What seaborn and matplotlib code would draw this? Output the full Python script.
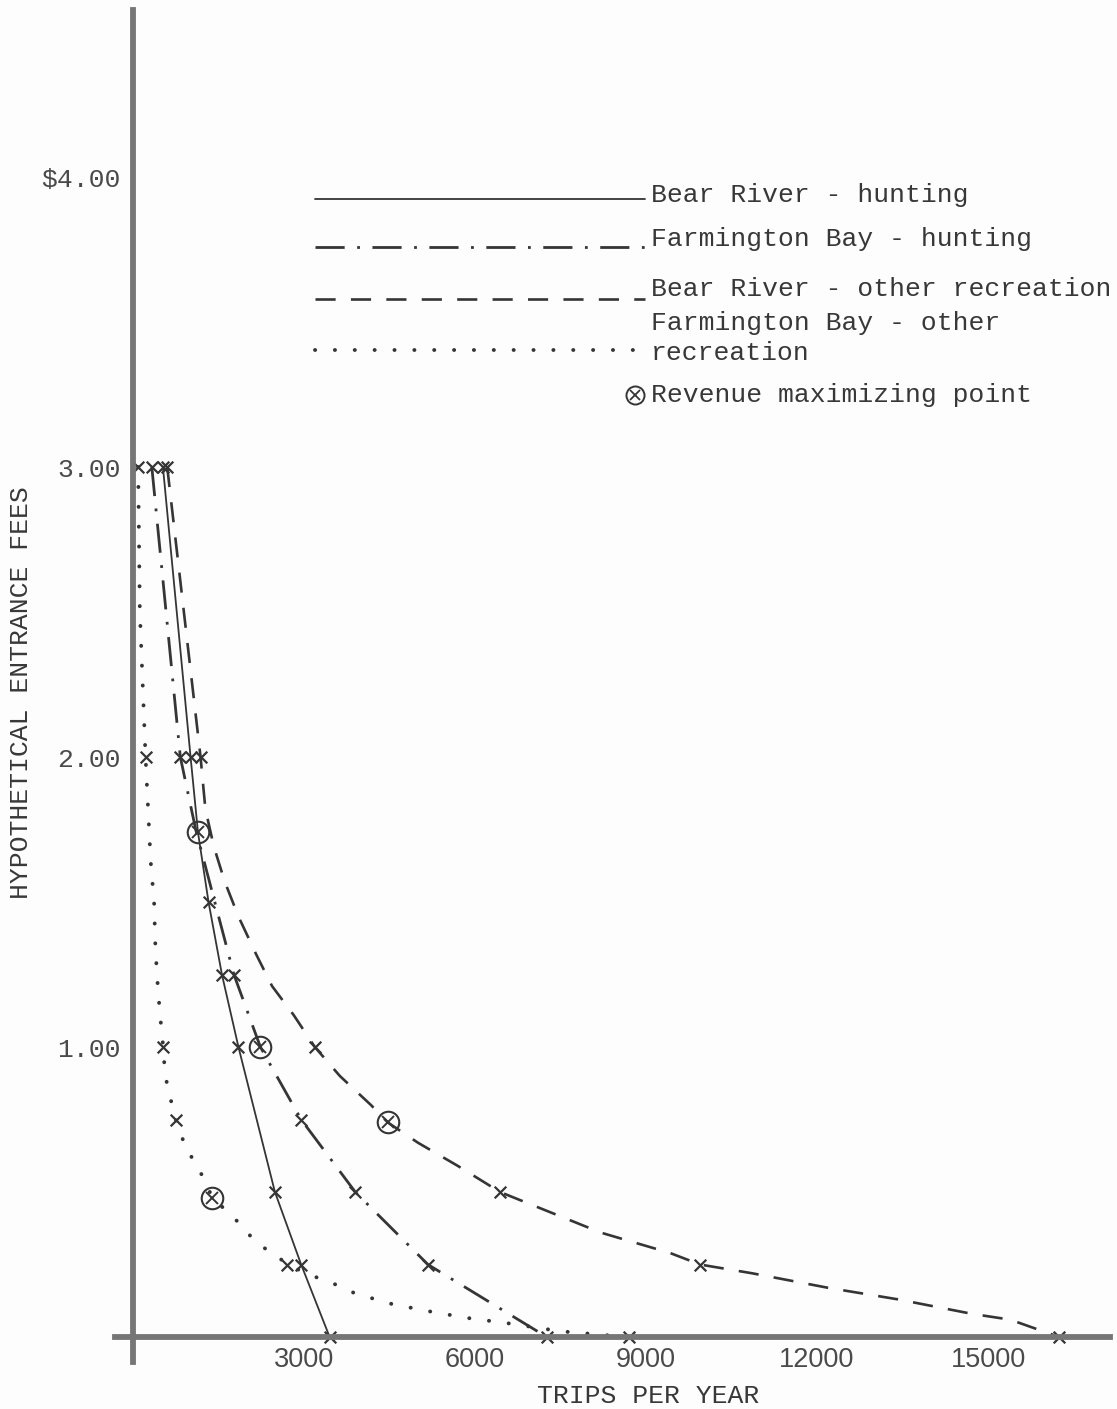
import matplotlib
matplotlib.use("Agg")
import matplotlib.pyplot as plt
from matplotlib.lines import Line2D
import seaborn as sns

# --- demand schedules: entrance fee ($) vs. trips per year ---
br_hunt_fee = [3.00, 2.00, 1.74, 1.50, 1.25, 1.00, 0.50, 0.25, 0.00]
br_hunt_trips = [525, 1010, 1140, 1325, 1560, 1850, 2490, 2950, 3450]
br_hunt_marks = [3.00, 2.00, 1.50, 1.25, 1.00, 0.50, 0.25, 0.00]
br_hunt_rmax = (1140, 1.74)

fb_hunt_fee = [3.00, 2.00, 1.75, 1.25, 1.00, 0.75, 0.50, 0.25, 0.00]
fb_hunt_trips = [330, 830, 1100, 1770, 2235, 2950, 3900, 5175, 7260]
fb_hunt_marks = [3.00, 2.00, 1.25, 0.75, 0.50, 0.25, 0.00]
fb_hunt_rmax = (2235, 1.00)

br_other_fee = [3.00, 2.00, 1.82, 1.69, 1.57, 1.45, 1.32, 1.21, 1.11, 1.00, 0.90,
                0.80, 0.74, 0.67, 0.59, 0.50, 0.36, 0.29, 0.25, 0.22, 0.17, 0.13,
                0.08, 0.06, 0.00]
br_other_trips = [600, 1185, 1270, 1420, 1610, 1850, 2160, 2440, 2820, 3190, 3630,
                  4175, 4470, 5000, 5700, 6440, 8210, 9420, 9950, 10860, 12190, 13420,
                  14720, 15390, 16250]
br_other_marks = [3.00, 2.00, 1.00, 0.50, 0.25, 0.00]
br_other_rmax = (4470, 0.74)

fb_other_fee = [3.00, 2.50, 2.00, 1.84, 1.64, 1.50, 1.36, 1.25, 1.12, 1.00, 0.91,
                0.85, 0.79, 0.75, 0.66, 0.60, 0.54, 0.48, 0.44, 0.40, 0.35, 0.31,
                0.28, 0.25, 0.21, 0.19, 0.155, 0.117, 0.09, 0.066, 0.048, 0.02, 0.00]
fb_other_trips = [90, 120, 220, 260, 310, 370, 390, 420, 470, 530, 560,
                  620, 700, 750, 912, 1088, 1263, 1390, 1614, 1825, 2053, 2280,
                  2526, 2700, 3160, 3456, 3840, 4470, 5160, 5860, 6560, 7500, 8700]
fb_other_marks = [3.00, 2.00, 1.00, 0.75, 0.25, 0.00]
fb_other_rmax = (1390, 0.48)

x_ticks = [3000, 6000, 9000, 12000, 15000]
x_tick_labels = ["3000", "6000", "9000", "12000", "15000"]
y_ticks = [1, 2, 3, 4]
y_tick_labels = ["1.00", "2.00", "3.00", "$4.00"]

legend_labels = ["Bear River - hunting", "Farmington Bay - hunting",
                 "Bear River - other recreation", "Farmington Bay - other",
                 "recreation", "Revenue maximizing point"]

# --- styling ---
sns.set_theme(style="white")
plt.rcParams["lines.scale_dashes"] = False
TYPE = ["Liberation Mono", "DejaVu Sans Mono"]
INK = "#353535"
TXT = "#383838"
AXIS = "#767676"

W, H = 1117, 1409
fig = plt.figure(figsize=(W / 100, H / 100), dpi=100, facecolor="#fdfdfd")
ax = fig.add_axes([115 / W, 47 / H, 995 / W, 1352 / H], facecolor="#fdfdfd")

SOLID = "-"
DASHDOT = (0, (21, 9, 2, 9))
DASHED = (0, (14.5, 11))
DOTTED = (0, (0.1, 14.2))

series = [
    (br_hunt_trips, br_hunt_fee, br_hunt_marks, br_hunt_rmax, SOLID, 1.3, "butt"),
    (fb_hunt_trips, fb_hunt_fee, fb_hunt_marks, fb_hunt_rmax, DASHDOT, 2.0, "butt"),
    (br_other_trips, br_other_fee, br_other_marks, br_other_rmax, DASHED, 1.9, "butt"),
    (fb_other_trips, fb_other_fee, fb_other_marks, fb_other_rmax, DOTTED, 2.8, "round"),
]

for trips, fee, marks, rmax, ls, lw, cap in series:
    sns.lineplot(x=trips, y=fee, sort=False, estimator=None, ax=ax, color=INK,
                 linewidth=lw, linestyle=ls, dash_capstyle=cap, zorder=3)
    mx = [t for t, f in zip(trips, fee) if f in marks]
    my = [f for f in fee if f in marks]
    sns.scatterplot(x=mx, y=my, ax=ax, marker="x", s=70, color=INK,
                    linewidth=1.6, zorder=4)
    ax.plot([rmax[0]], [rmax[1]], marker="o", ms=15.5, mfc="none", mec=INK,
            mew=1.5, ls="none", zorder=5)
    ax.plot([rmax[0]], [rmax[1]], marker="x", ms=8.5, mec=INK, mew=1.4,
            ls="none", zorder=5)

# --- axes ---
ax.set_xlim(-316, 17140)
ax.set_ylim(-0.086, 4.576)
for side in ["top", "right"]:
    ax.spines[side].set_visible(False)
for side in ["left", "bottom"]:
    ax.spines[side].set_position(("data", 0))
    ax.spines[side].set_color(AXIS)
    ax.spines[side].set_linewidth(4.2)
    ax.spines[side].set_zorder(6)

ax.set_xticks(x_ticks)
ax.set_xticklabels(x_tick_labels, fontfamily="Liberation Sans", fontsize=19.5,
                   color="#4a4a4a")
ax.set_yticks(y_ticks)
ax.set_yticklabels(y_tick_labels, fontfamily=TYPE, fontsize=19, color="#4a4a4a")
ax.tick_params(axis="x", direction="in", length=7, width=1.1, color="#555555", pad=7)
ax.tick_params(axis="y", direction="in", length=6, width=1.1, color="#555555", pad=9)

ax.set_xlabel("TRIPS PER YEAR", fontfamily=TYPE, fontsize=19, color=TXT,
              va="center")
ax.xaxis.set_label_coords((648 - 115) / 995, (1362 - 1396) / 1352)
ax.set_ylabel("HYPOTHETICAL ENTRANCE FEES", fontfamily=TYPE, fontsize=19,
              color=TXT, va="center")
ax.yaxis.set_label_coords((21 - 115) / 995, (1362 - 693) / 1352)

# --- key ---
def fx(px):
    return px / W

def fy(py):
    return 1 - py / H

key_rows = [
    (199, 202, SOLID, 1.3, "butt"),
    (247, 246, DASHDOT, 2.0, "butt"),
    (299, 296, DASHED, 1.9, "butt"),
    (350, 330, DOTTED, 2.8, "round"),
]
for (ly, ty, ls, lw, cap), label in zip(key_rows, legend_labels[:4]):
    fig.add_artist(Line2D([fx(315), fx(645)], [fy(ly), fy(ly)], color=INK,
                          linewidth=lw, linestyle=ls, dash_capstyle=cap))
    fig.text(fx(651), fy(ty), label, fontfamily=TYPE, fontsize=19,
             color=TXT, va="baseline", ha="left")
fig.text(fx(651), fy(360), legend_labels[4], fontfamily=TYPE, fontsize=19,
         color=TXT, va="baseline", ha="left")
fig.add_artist(Line2D([fx(635)], [fy(395)], marker="o", ms=13, mfc="none",
                      mec=INK, mew=1.4, ls="none"))
fig.add_artist(Line2D([fx(635)], [fy(395)], marker="x", ms=7, mec=INK,
                      mew=1.3, ls="none"))
fig.text(fx(651), fy(402), legend_labels[5], fontfamily=TYPE, fontsize=19,
         color=TXT, va="baseline", ha="left")

fig.savefig("out.png", dpi=100, facecolor=fig.get_facecolor())
